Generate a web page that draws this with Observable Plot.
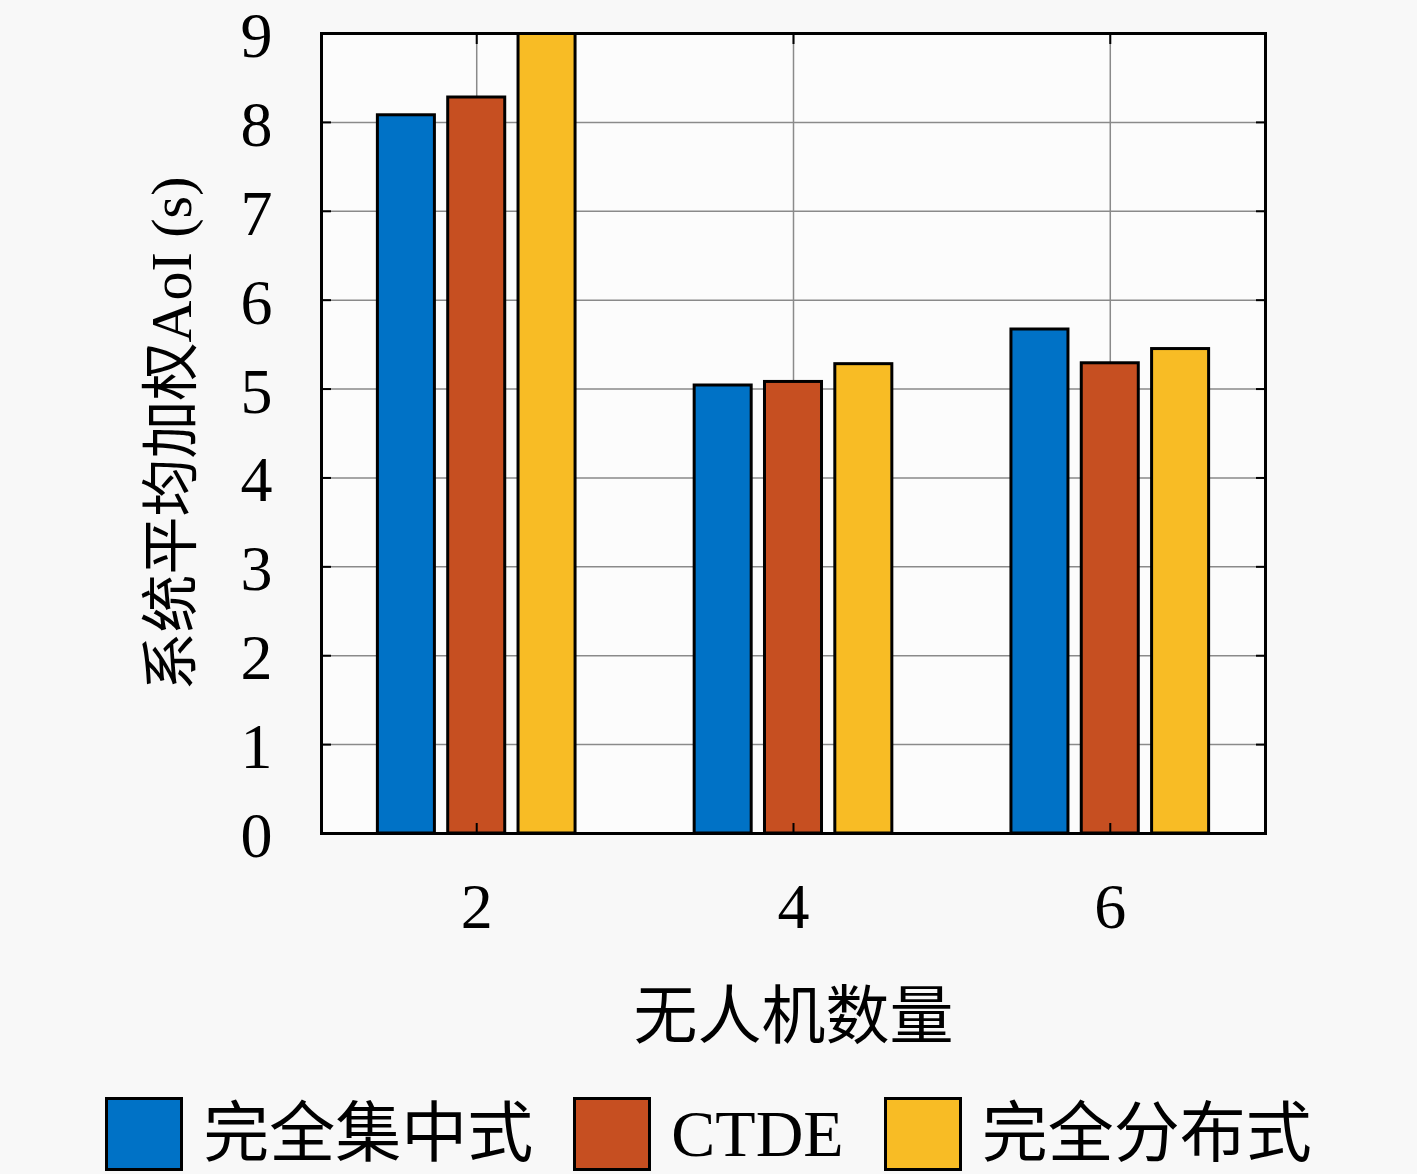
<!DOCTYPE html>
<html><head><meta charset="utf-8">
<script src="https://cdn.jsdelivr.net/npm/d3@7"></script>
<script src="https://cdn.jsdelivr.net/npm/@observablehq/plot@0.6"></script>
<style>
html,body{margin:0;padding:0;background:#f8f8f8;}
#wrap{width:1417px;height:1174px;position:relative;overflow:hidden;}
#chart svg{overflow:visible;display:block;}
#legend{position:absolute;left:0;top:1094px;width:1417px;height:80px;display:flex;align-items:center;justify-content:center;
 font-family:"Liberation Serif","Noto Sans CJK SC",serif;font-size:66px;line-height:1;color:#000;}
.item{display:flex;align-items:center;margin:0 20px;}
.sw{width:72px;height:68px;border:3px solid #000;margin-right:20px;box-sizing:content-box;}
</style></head>
<body><div id="wrap"><div id="chart"></div><div id="legend"></div></div>
<script>
const uavCounts = [2, 4, 6];
const methods = ["完全集中式", "CTDE", "完全分布式"];
const centralized = [8.08, 5.04, 5.67];
const ctde = [8.28, 5.08, 5.29];
const distributed = [9.0, 5.28, 5.45];
const colors = ["#0072C6", "#C64F21", "#F8BC25"];
const yTicks = [0,1,2,3,4,5,6,7,8,9];
const yLabel = "系统平均加权AoI (s)";
const xLabel = "无人机数量";

const series = [centralized, ctde, distributed];
const rows = [];
uavCounts.forEach((u, i) => methods.forEach((m, j) => rows.push({uav: u, method: m, k: j, value: series[j][i]})));

const offset = 0.444, bw = 0.36;
const font = '"Liberation Serif","Noto Sans CJK SC",serif';

const chart = Plot.plot({
  width: 1417, height: 1094,
  marginLeft: 321, marginRight: 152, marginTop: 33, marginBottom: 261,
  style: {fontFamily: font, background: "transparent", color: "#000", overflow: "visible"},
  x: {domain: [1.02, 6.98], ticks: uavCounts},
  y: {domain: [0, 9], ticks: yTicks},
  color: {domain: methods, range: colors},
  marks: [
    Plot.frame({fill: "#fcfcfc", stroke: null}),
    Plot.gridX(uavCounts, {stroke: "#8a8a8a", strokeOpacity: 1, strokeWidth: 1.5}),
    Plot.gridY(yTicks, {stroke: "#8a8a8a", strokeOpacity: 1, strokeWidth: 1.5}),
    Plot.rectY(rows, {
      x1: d => d.uav + (d.k - 1) * offset - bw / 2,
      x2: d => d.uav + (d.k - 1) * offset + bw / 2,
      y1: 0, y2: "value", fill: "method", stroke: "#000", strokeWidth: 3, clip: true
    }),
    Plot.axisY(yTicks, {anchor: "left", tickSize: 0, tickPadding: 49, fontSize: 64, dy: 3, tickFormat: d => d, label: null}),
    Plot.axisY(yTicks, {anchor: "left", tickSize: -10, text: null, stroke: "#000", strokeWidth: 2, label: null}),
    Plot.axisY(yTicks, {anchor: "right", tickSize: -10, text: null, stroke: "#000", strokeWidth: 2, label: null}),
    Plot.axisX(uavCounts, {anchor: "bottom", tickSize: -10, tickPadding: 59, fontSize: 64, tickFormat: d => d, stroke: "#000", strokeWidth: 2, label: null}),
    Plot.axisX(uavCounts, {anchor: "top", tickSize: -10, text: null, stroke: "#000", strokeWidth: 2, label: null}),
    Plot.frame({stroke: "#000", strokeWidth: 3}),
    Plot.text([xLabel], {text: d => d, frameAnchor: "bottom", dy: 184, fontSize: 64, lineAnchor: "middle", textAnchor: "middle"}),
    Plot.text([yLabel], {text: d => d, frameAnchor: "left", dx: -149, rotate: -90, fontSize: 58, lineAnchor: "middle", textAnchor: "middle"})
  ]
});
document.getElementById("chart").appendChild(chart);

const legend = document.getElementById("legend");
methods.forEach((m, j) => {
  const it = document.createElement("div"); it.className = "item";
  const sw = document.createElement("div"); sw.className = "sw"; sw.style.background = colors[j];
  const tx = document.createElement("span"); tx.textContent = m;
  it.appendChild(sw); it.appendChild(tx); legend.appendChild(it);
});
</script></body></html>
